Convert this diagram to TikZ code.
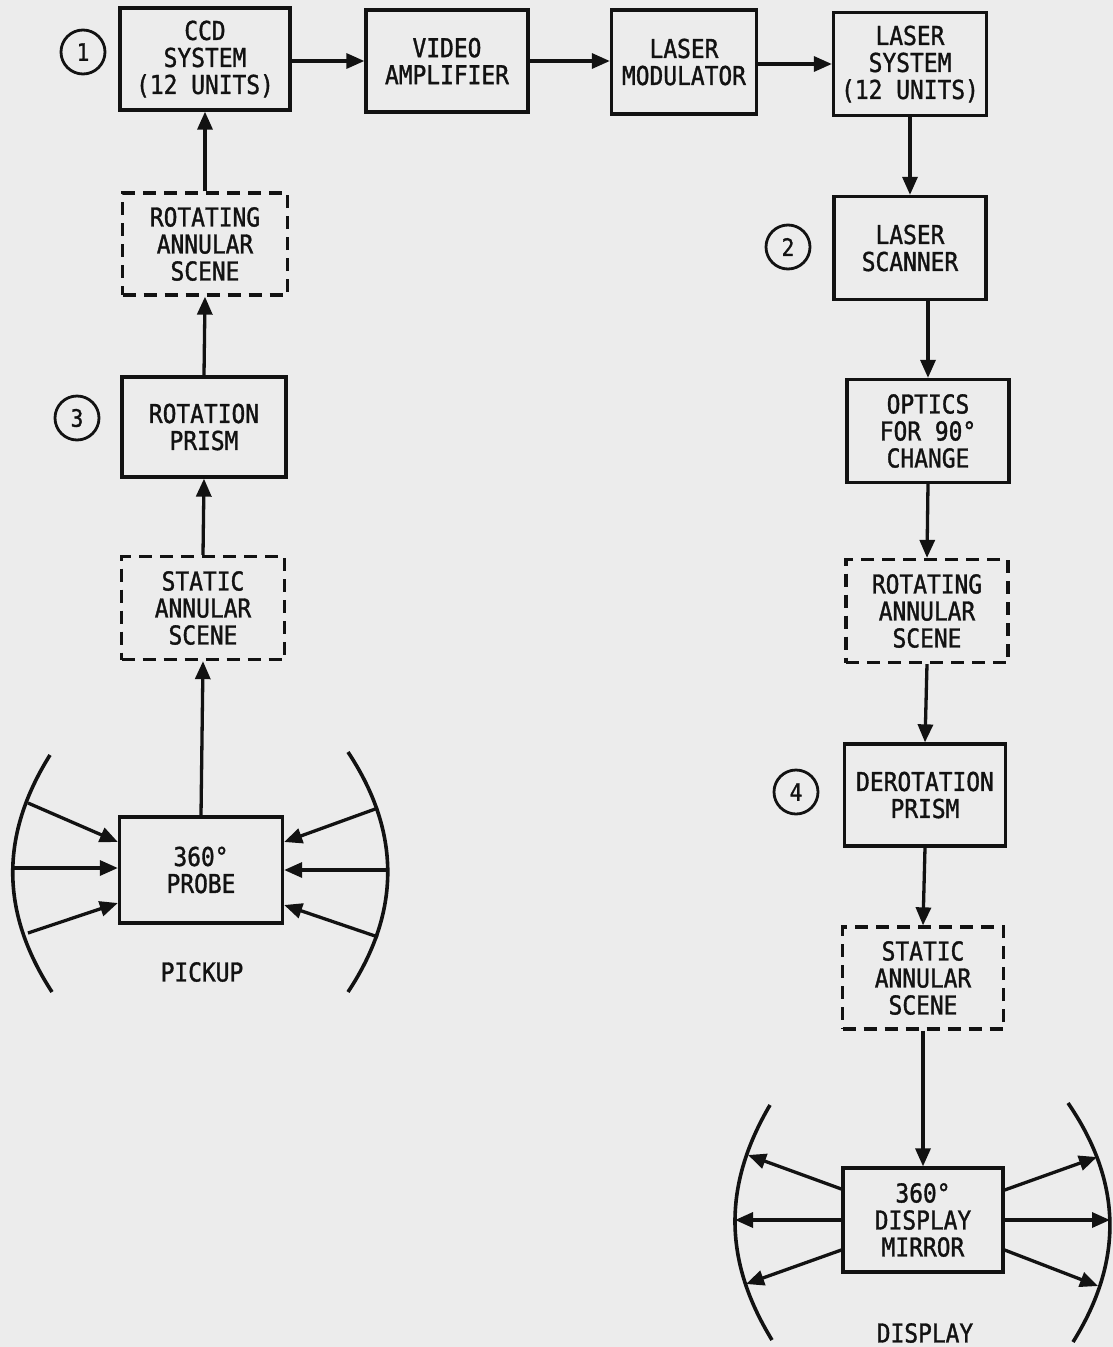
\documentclass[tikz,border=0pt]{standalone}
\usepackage{fontspec}
\newfontfamily\lettering[FakeStretch=0.88, FakeBold=1.3]{DejaVu Sans Mono}
\usetikzlibrary{arrows.meta}
\definecolor{paper}{RGB}{236,236,236}
\definecolor{ink}{RGB}{18,18,18}
\tikzstyle{block}=[draw=ink, line width=3.3pt, align=center, inner sep=0pt, text=ink, font=\lettering\fontsize{26}{27}\selectfont]
\tikzstyle{scene}=[block, dash pattern=on 13pt off 8pt]
\tikzstyle{tag}=[circle, draw=ink, line width=2.8pt, minimum size=44pt, inner sep=0pt, text=ink, font=\lettering\fontsize{24}{24}\selectfont]
\tikzstyle{caption}=[text=ink, font=\lettering\fontsize{26}{27}\selectfont]
\tikzstyle{flow}=[draw=ink, line width=3.3pt, -{Triangle[length=18pt,width=15pt]}]
\tikzstyle{lens}=[draw=ink, line width=3.6pt]

\begin{document}
\begin{tikzpicture}[x=1pt, y=-1pt]
				\path[use as bounding box, fill=paper] (0,0) rectangle (1113,1347);

				% Top row
				\node[block, minimum width=170, minimum height=102] (ccd) at (205, 59) {CCD\\SYSTEM\\(12 UNITS)};
				\node[block, minimum width=162, minimum height=102] (video) at (447, 61) {VIDEO\\AMPLIFIER};
				\node[block, minimum width=145, minimum height=104] (modulator) at (684, 62) {LASER\\MODULATOR};
				\node[block, minimum width=153, minimum height=103] (lasersys) at (910, 64) {LASER\\SYSTEM\\(12 UNITS)};

				% Right column (display side)
				\node[block, minimum width=152, minimum height=103] (scanner) at (910, 248) {LASER\\SCANNER};
				\node[block, minimum width=162, minimum height=103] (optics) at (928, 431) {OPTICS\\FOR 90°\\CHANGE};
				\node[scene, minimum width=162, minimum height=103] (rotR) at (927, 611) {ROTATING\\ANNULAR\\SCENE};
				\node[block, minimum width=161, minimum height=102] (derot) at (925, 795) {DEROTATION\\PRISM};
				\node[scene, minimum width=161, minimum height=102] (statR) at (923, 978) {STATIC\\ANNULAR\\SCENE};
				\node[block, minimum width=160, minimum height=104] (mirror) at (923, 1220) {360°\\DISPLAY\\MIRROR};
				\node[caption] (display) at (925, 1333) {DISPLAY};

				% Left column (pickup side)
				\node[scene, minimum width=165, minimum height=102] (rotL) at (205, 244) {ROTATING\\ANNULAR\\SCENE};
				\node[block, minimum width=164, minimum height=100] (rotprism) at (204, 427) {ROTATION\\PRISM};
				\node[scene, minimum width=163, minimum height=103] (statL) at (203, 608) {STATIC\\ANNULAR\\SCENE};
				\node[block, minimum width=163, minimum height=106] (probe) at (201, 870) {360°\\PROBE};
				\node[caption] (pickup) at (202, 972) {PICKUP};

				% Numbered tags
				\node[tag] (t1) at (83, 52) {1};
				\node[tag] (t2) at (788, 247) {2};
				\node[tag] (t3) at (77, 418) {3};
				\node[tag] (t4) at (796, 792) {4};

				% Signal flow
				\draw[flow] (ccd.east |- video.west) -- (video.west);
				\draw[flow] (video.east) -- (video.east -| modulator.west);
				\draw[flow] (modulator.east |- lasersys.west) -- (lasersys.west);
				\draw[flow] (lasersys.south) -- (scanner.north);
				\draw[flow] (scanner.south -| optics.north) -- (optics.north);
				\draw[flow] (optics.south) -- (rotR.north);
				\draw[flow] (rotR.south) -- (derot.north);
				\draw[flow] (derot.south) -- (statR.north);
				\draw[flow] (statR.south) -- (mirror.north);
				\draw[flow] (probe.north) -- (statL.south);
				\draw[flow] (statL.north) -- (rotprism.south);
				\draw[flow] (rotprism.north) -- (rotL.south);
				\draw[flow] (rotL.north) -- (ccd.south);

				% Pickup field of view
				\draw[lens] (50,755) .. controls (0,835) and (0,912) .. (52,992);
				\draw[lens] (348,752) .. controls (401,832) and (401,912) .. (348,992);
				\coordinate (pl1) at (28,803);
				\coordinate (pl2) at (14,868);
				\coordinate (pl3) at (28,933);
				\coordinate (pr1) at (378,808);
				\coordinate (pr2) at (388,870);
				\coordinate (pr3) at (378,937);
				\draw[flow] (pl1) -- ([yshift=28pt]probe.west);
				\draw[flow] (pl2) -- ([yshift=2pt]probe.west);
				\draw[flow] (pl3) -- ([yshift=-33pt]probe.west);
				\draw[flow] (pr1) -- ([yshift=28pt]probe.east);
				\draw[flow] (pr2) -- (probe.east);
				\draw[flow] (pr3) -- ([yshift=-35pt]probe.east);

				% Display field of view
				\draw[lens] (770,1105) .. controls (723,1185) and (723,1260) .. (772,1340);
				\draw[lens] (1068,1103) .. controls (1123,1183) and (1123,1262) .. (1073,1342);
				\coordinate (ml1) at (748,1155);
				\coordinate (ml2) at (735,1220);
				\coordinate (ml3) at (746,1284);
				\coordinate (mr1) at (1097,1157);
				\coordinate (mr2) at (1110,1220);
				\coordinate (mr3) at (1098,1286);
				\draw[flow] ([yshift=31pt]mirror.west) -- (ml1);
				\draw[flow] (mirror.west) -- (ml2);
				\draw[flow] ([yshift=-30pt]mirror.west) -- (ml3);
				\draw[flow] ([yshift=30pt]mirror.east) -- (mr1);
				\draw[flow] (mirror.east) -- (mr2);
				\draw[flow] ([yshift=-30pt]mirror.east) -- (mr3);
			\end{tikzpicture}
\end{document}
